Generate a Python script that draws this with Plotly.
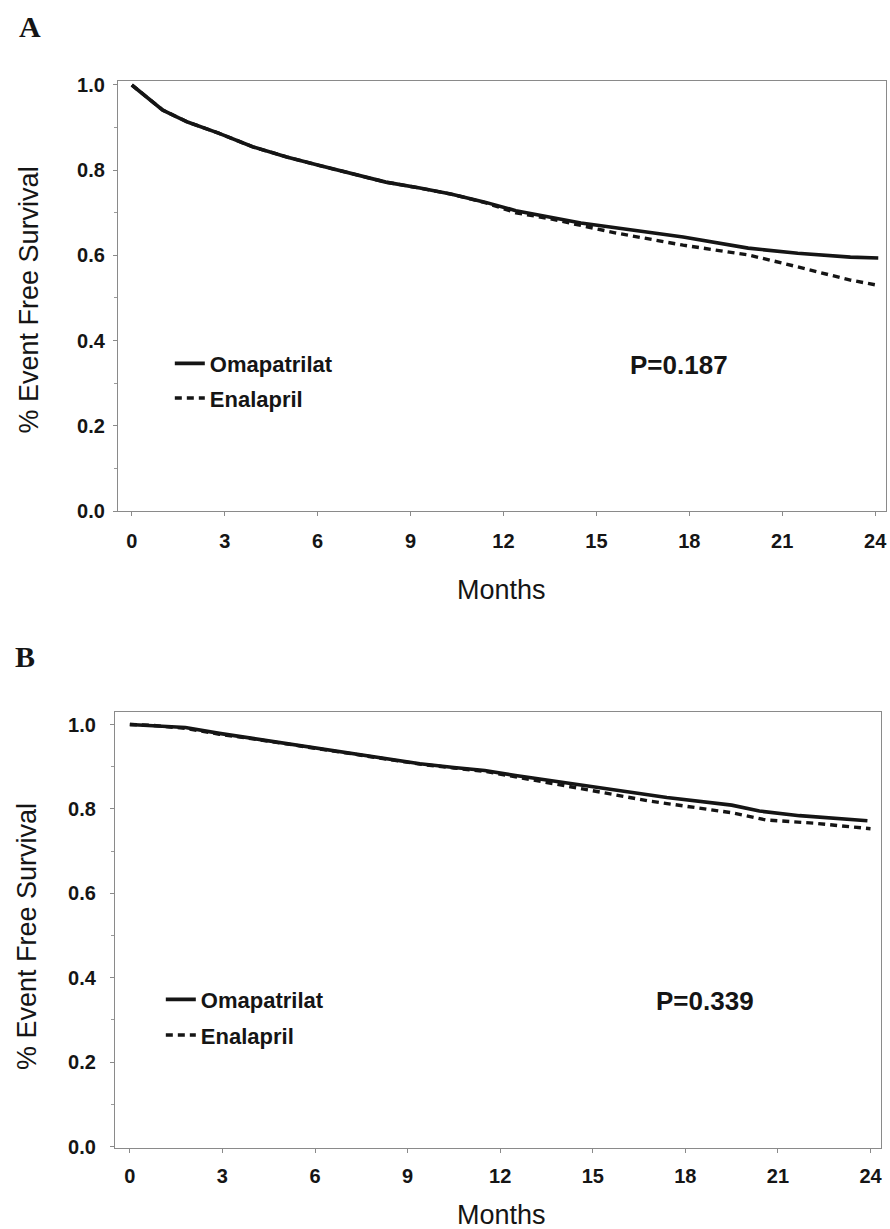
import plotly.graph_objects as go

W, H = 890, 1229

# ---------------- data ----------------
# Panel A
a_oma_months = [0, 0.7, 1.0, 1.8, 2.8, 3.9, 5.0, 6.0, 7.1, 8.2, 9.3, 10.3, 11.4, 12.4,
                14.5, 16.2, 17.8, 19.9, 21.5, 23.2, 24.1]
a_oma_surv = [1.0, 0.958, 0.941, 0.913, 0.887, 0.855, 0.831, 0.812, 0.793, 0.772, 0.758,
              0.744, 0.725, 0.705, 0.676, 0.660, 0.643, 0.617, 0.605, 0.596, 0.594]
a_ena_months = [0, 0.7, 1.0, 1.8, 2.8, 3.9, 5.0, 6.0, 7.1, 8.2, 9.3, 10.3, 11.4, 12.4,
                13.5, 15.6, 17.8, 19.9, 21.0, 22.1, 23.2, 24.0]
a_ena_surv = [1.0, 0.958, 0.941, 0.913, 0.887, 0.855, 0.831, 0.812, 0.793, 0.772, 0.758,
              0.744, 0.724, 0.700, 0.686, 0.653, 0.624, 0.601, 0.582, 0.561, 0.542, 0.531]
a_pvalue = "P=0.187"

# Panel B
b_oma_months = [0, 0.7, 1.8, 2.9, 4.0, 5.1, 6.2, 7.2, 8.3, 9.4, 10.5, 11.5, 12.5,
                15.2, 17.4, 19.5, 20.4, 21.7, 23.9]
b_oma_surv = [1.0, 0.998, 0.993, 0.979, 0.967, 0.955, 0.943, 0.931, 0.919, 0.907, 0.898,
              0.891, 0.879, 0.850, 0.827, 0.809, 0.795, 0.784, 0.772]
b_ena_months = [0, 0.7, 1.8, 2.9, 4.0, 5.1, 6.2, 7.2, 8.3, 9.4, 10.5, 11.5, 12.5,
                13.5, 15.0, 16.8, 19.5, 20.6, 22.2, 24.0]
b_ena_surv = [1.0, 0.998, 0.991, 0.977, 0.966, 0.954, 0.942, 0.930, 0.918, 0.906, 0.897,
              0.889, 0.876, 0.862, 0.843, 0.819, 0.791, 0.774, 0.766, 0.753]
b_pvalue = "P=0.339"

x_ticks = [0, 3, 6, 9, 12, 15, 18, 21, 24]
y_ticks = [0.0, 0.2, 0.4, 0.6, 0.8, 1.0]
y_tick_labels = ["0.0", "0.2", "0.4", "0.6", "0.8", "1.0"]
series_names = ["Omapatrilat", "Enalapril"]
panel_labels = ["A", "B"]
x_title = "Months"
y_title = "% Event Free Survival"

# ---------------- layout helpers ----------------
# empirical vertical correction between requested and photographed positions
VS, VOFF = 0.983, 8.2

def setpix(y):
    return (y - VOFF) / VS

def px(x):
    return x / W

def py(y):
    return 1 - setpix(y) / H

def yrange(frame_top, frame_bot, y0_pix, y1_pix):
    """value range so that 0 sits at y0_pix and 1 at y1_pix (target pixels)."""
    t, b, z, o = map(setpix, (frame_top, frame_bot, y0_pix, y1_pix))
    per = z - o
    return [-(b - z) / per, 1 + (o - t) / per]

INK = "#151515"
SANS = "Liberation Sans, Arial, sans-serif"
SERIF = "Liberation Serif, Times New Roman, serif"

fig = go.Figure()

solid = dict(color=INK, width=3.6)
dashed = dict(color=INK, width=3.4, dash="7px,5px")

fig.add_trace(go.Scatter(x=a_oma_months, y=a_oma_surv, mode="lines", line=solid,
                         name=series_names[0], legend="legend", legendgroup="a1",
                         xaxis="x", yaxis="y"))
fig.add_trace(go.Scatter(x=a_ena_months, y=a_ena_surv, mode="lines", line=dashed,
                         name=series_names[1], legend="legend", legendgroup="a2",
                         xaxis="x", yaxis="y"))
fig.add_trace(go.Scatter(x=b_oma_months, y=b_oma_surv, mode="lines", line=solid,
                         name=series_names[0], legend="legend2", legendgroup="b1",
                         xaxis="x2", yaxis="y2"))
fig.add_trace(go.Scatter(x=b_ena_months, y=b_ena_surv, mode="lines", line=dashed,
                         name=series_names[1], legend="legend2", legendgroup="b2",
                         xaxis="x2", yaxis="y2"))

axis_common = dict(
    showgrid=False, zeroline=False, showline=True, mirror=True,
    linecolor="#8a8a8a", linewidth=1,
    ticks="outside", ticklen=4, tickcolor="#8a8a8a", tickwidth=1,
    tickfont=dict(family=SANS, size=20, color=INK, weight="bold"),
)

fig.update_layout(
    width=W, height=H,
    margin=dict(l=0, r=0, t=0, b=0),
    paper_bgcolor="white", plot_bgcolor="white",
    xaxis=dict(axis_common, domain=[px(118), px(887)], range=[-0.45, 24.35],
               tickvals=x_ticks, anchor="y", ticklabelstandoff=8),
    yaxis=dict(axis_common, domain=[py(511), py(82)], range=yrange(82, 511, 511, 86),
               tickvals=y_ticks, ticktext=y_tick_labels, anchor="x",
               ticklabelstandoff=4,
               minor=dict(dtick=0.1, ticks="outside", ticklen=3, tickcolor="#9a9a9a")),
    xaxis2=dict(axis_common, domain=[px(115), px(882)], range=[-0.485, 24.34],
                tickvals=x_ticks, anchor="y2", ticklabelstandoff=6),
    yaxis2=dict(axis_common, domain=[py(1146), py(712)], range=yrange(712, 1146, 1145, 724),
                tickvals=y_ticks, ticktext=y_tick_labels, anchor="x2",
                ticklabelstandoff=10,
                minor=dict(dtick=0.1, ticks="outside", ticklen=3, tickcolor="#9a9a9a")),
    legend=dict(x=px(170), y=1 - 340.6 / H, xanchor="left", yanchor="top",
                bgcolor="rgba(0,0,0,0)", traceorder="grouped", tracegroupgap=3,
                font=dict(family=SANS, size=22, color=INK, weight="bold"),
                itemwidth=30),
    legend2=dict(x=px(161), y=1 - 986 / H, xanchor="left", yanchor="top",
                 bgcolor="rgba(0,0,0,0)", traceorder="grouped", tracegroupgap=4,
                 font=dict(family=SANS, size=22, color=INK, weight="bold"),
                 itemwidth=30),
    showlegend=True,
)

annotations = [
    # panel letters
    dict(text="<b>%s</b>" % panel_labels[0], x=px(17), y=py(28), xanchor="left", yanchor="middle",
         font=dict(family=SERIF, size=30, color=INK)),
    dict(text="<b>%s</b>" % panel_labels[1], x=px(13), y=py(656), xanchor="left", yanchor="middle",
         font=dict(family=SERIF, size=30, color=INK)),
    # p values
    dict(text="<b>%s</b>" % a_pvalue, x=px(680), y=py(365), xanchor="center", yanchor="middle",
         font=dict(family=SANS, size=26, color=INK)),
    dict(text="<b>%s</b>" % b_pvalue, x=px(706), y=py(1000), xanchor="center", yanchor="middle",
         font=dict(family=SANS, size=26, color=INK)),
    # axis titles
    dict(text=x_title, x=px(502), y=py(590), xanchor="center", yanchor="middle",
         font=dict(family=SANS, size=27, color=INK)),
    dict(text=x_title, x=px(502), y=py(1213), xanchor="center", yanchor="middle",
         font=dict(family=SANS, size=27, color=INK)),
    dict(text=y_title, x=px(30), y=py(300), xanchor="center", yanchor="middle", textangle=-90,
         font=dict(family=SANS, size=27, color=INK)),
    dict(text=y_title, x=px(27), y=py(935), xanchor="center", yanchor="middle", textangle=-90,
         font=dict(family=SANS, size=27, color=INK)),
]
for a in annotations:
    a.update(xref="paper", yref="paper", showarrow=False)
fig.update_layout(annotations=annotations)

fig.write_html(
    "out.html",
    config={"displayModeBar": False},
    post_script=(
        "document.documentElement.style.margin='0';"
        "document.body.style.margin='0';"
        "document.body.style.padding='0';"
        "document.body.style.overflow='hidden';"
        "document.body.style.fontSize='0';"
        "document.body.style.lineHeight='0';"
    ),
)
